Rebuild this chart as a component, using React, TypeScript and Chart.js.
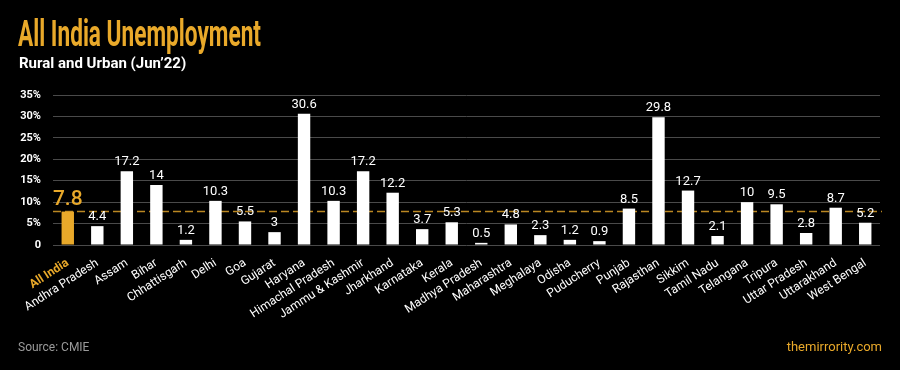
import React, { useEffect, useRef } from "react";
import { Chart, registerables } from "chart.js";

Chart.register(...registerables);

const categories = [
  "All India", "Andhra Pradesh", "Assam", "Bihar", "Chhattisgarh", "Delhi", "Goa", "Gujarat",
  "Haryana", "Himachal Pradesh", "Jammu & Kashmir", "Jharkhand", "Karnataka", "Kerala",
  "Madhya Pradesh", "Maharashtra", "Meghalaya", "Odisha", "Puducherry", "Punjab", "Rajasthan",
  "Sikkim", "Tamil Nadu", "Telangana", "Tripura", "Uttar Pradesh", "Uttarakhand", "West Bengal",
];
const unemployment = [
  7.8, 4.4, 17.2, 14, 1.2, 10.3, 5.5, 3, 30.6, 10.3, 17.2, 12.2, 3.7, 5.3,
  0.5, 4.8, 2.3, 1.2, 0.9, 8.5, 29.8, 12.7, 2.1, 10, 9.5, 2.8, 8.7, 5.2,
];
const referenceValue = 7.8;
const yTicks = [0, 5, 10, 15, 20, 25, 30, 35];
const titleText = "All India Unemployment";
const subtitleText = "Rural and Urban (Jun\u201922)";
const sourceText = "Source: CMIE";
const brandText = "themirrority.com";

const GOLD = "#E9A92A";
const WHITE = "#FFFFFF";

export default function App() {
  const ref = useRef<HTMLCanvasElement | null>(null);

  useEffect(() => {
    document.body.style.margin = "0";
    document.body.style.background = "#000";
    const canvas = ref.current;
    if (!canvas) return;

    const overlay = {
      id: "overlay",
      beforeDraw(chart: any) {
        const { ctx, width, height } = chart;
        ctx.save();
        ctx.fillStyle = "#000";
        ctx.fillRect(0, 0, width, height);
        ctx.restore();
      },
      beforeDatasetsDraw(chart: any) {
        const { ctx, chartArea } = chart;
        const y = chart.scales.y.getPixelForValue(referenceValue);
        ctx.save();
        ctx.strokeStyle = GOLD;
        ctx.globalAlpha = 0.8;
        ctx.lineWidth = 1.5;
        ctx.setLineDash([8, 4]);
        ctx.beginPath();
        ctx.moveTo(chartArea.left, y);
        ctx.lineTo(chartArea.right + 2, y);
        ctx.stroke();
        ctx.restore();
      },
      afterDatasetsDraw(chart: any) {
        const { ctx } = chart;
        const meta = chart.getDatasetMeta(0);
        ctx.save();
        ctx.textAlign = "center";
        ctx.textBaseline = "alphabetic";
        meta.data.forEach((bar: any, i: number) => {
          const v = unemployment[i];
          if (i === 0) {
            ctx.fillStyle = GOLD;
            ctx.font = "500 21px Roboto";
            ctx.fillText(String(v), bar.x, bar.y - 7);
          } else {
            ctx.fillStyle = WHITE;
            ctx.font = "400 13px Roboto";
            ctx.fillText(String(v), bar.x, bar.y - 6);
          }
        });
        ctx.restore();
      },
      afterDraw(chart: any) {
        const { ctx, width } = chart;
        ctx.save();
        ctx.fillStyle = GOLD;
        ctx.font = "700 36px Roboto";
        ctx.textBaseline = "alphabetic";
        ctx.textAlign = "left";
        const w = ctx.measureText(titleText).width;
        const sx = 243 / w;
        ctx.save();
        ctx.translate(18, 46);
        ctx.scale(sx, 1);
        ctx.fillText(titleText, 0, 0);
        ctx.restore();
        ctx.fillStyle = WHITE;
        ctx.font = "700 15px Roboto";
        ctx.fillText(subtitleText, 19, 68);
        ctx.fillStyle = "#9a9a9a";
        ctx.font = "400 12px Roboto";
        ctx.fillText(sourceText, 18, 351);
        ctx.fillStyle = GOLD;
        ctx.font = "400 13px Roboto";
        ctx.textAlign = "right";
        ctx.fillText(brandText, width - 18, 351);
        ctx.restore();
      },
    };

    const chart = new Chart(canvas, {
      type: "bar",
      data: {
        labels: categories,
        datasets: [
          {
            data: unemployment,
            backgroundColor: unemployment.map((_, i) => (i === 0 ? GOLD : WHITE)),
            borderWidth: 0,
            barPercentage: 0.42,
            categoryPercentage: 1,
          },
        ],
      },
      options: {
        responsive: false,
        animation: false,
        layout: { padding: { top: 95, left: 18, right: 20, bottom: 0 } },
        plugins: {
          legend: { display: false },
          tooltip: { enabled: false },
          title: { display: false },
        },
        scales: {
          x: {
            grid: { display: false },
            border: { display: false },
            ticks: {
              autoSkip: false,
              minRotation: 33,
              maxRotation: 33,
              padding: 3,
              color: (c: any) => (c.index === 0 ? GOLD : WHITE),
              font: (c: any) => ({ family: "Roboto", size: 12, weight: c.index === 0 ? "bold" : "normal" }),
            },
            afterFit: (scale: any) => {
              scale.height = 125;
            },
          },
          y: {
            min: 0,
            max: 35,
            border: { display: false },
            grid: { color: "#4a4a4a", lineWidth: 1, drawTicks: false },
            afterBuildTicks: (scale: any) => {
              scale.ticks = yTicks.map((v) => ({ value: v }));
            },
            ticks: {
              padding: 12,
              color: WHITE,
              font: { family: "Roboto", size: 11, weight: "bold" },
              callback: (v: any) => (Number(v) === 0 ? "0" : v + "%"),
            },
            afterFit: (scale: any) => {
              scale.width = 35;
            },
          },
        },
      },
      plugins: [overlay],
    });

    return () => chart.destroy();
  }, []);

  return (
    <div style={{ position: "fixed", left: 0, top: 0, width: 900, height: 370, background: "#000" }}>
      <canvas ref={ref} width={900} height={370} style={{ width: 900, height: 370, display: "block" }} />
    </div>
  );
}
